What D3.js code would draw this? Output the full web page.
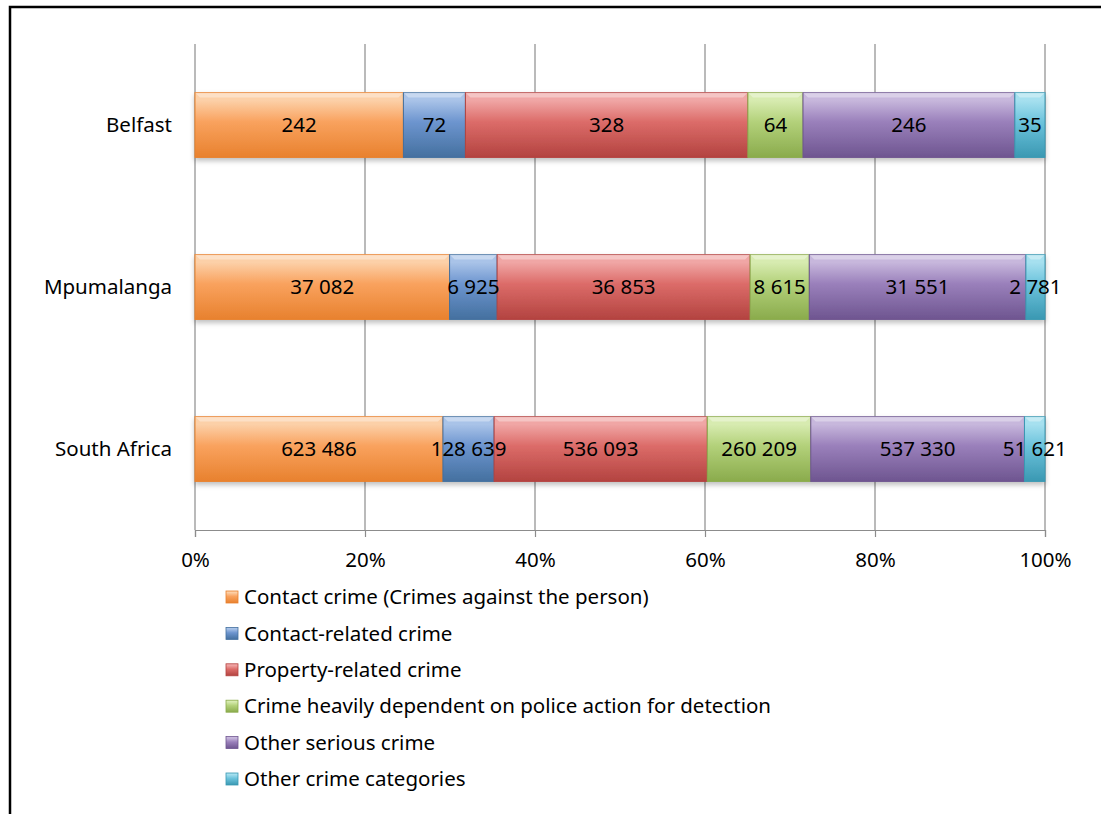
<!DOCTYPE html>
<html>
<head>
<meta charset="utf-8">
<script src="https://cdn.jsdelivr.net/npm/d3@7"></script>
<style>
  body { margin: 0; background: #fff; }
  text { font-family: "Noto Sans", sans-serif; fill: #000; }
</style>
</head>
<body>
<div id="chart"></div>
<script>
// regions, top to bottom
var regions = ["Belfast", "Mpumalanga", "South Africa"];

var seriesNames = [
    "Contact crime (Crimes against the person)",
    "Contact-related crime",
    "Property-related crime",
    "Crime heavily dependent on police action for detection",
    "Other serious crime",
    "Other crime categories"
];

var belfast = [242, 72, 328, 64, 246, 35];
var mpumalanga = [37082, 6925, 36853, 8615, 31551, 2781];
var southAfrica = [623486, 128639, 536093, 260209, 537330, 51621];

var tickValues = [0, 0.2, 0.4, 0.6, 0.8, 1];

// light / mid / dark for each series gradient
var colors = [
    ["#fcd0a8", "#f9a25e", "#e8812e"],
    ["#a9c3e8", "#6d95cf", "#44709f"],
    ["#f0a6a5", "#dc6c69", "#b34340"],
    ["#d7ebb0", "#b3d17a", "#8aab4c"],
    ["#c7b7dc", "#9a80bb", "#6e5590"],
    ["#a6e0ef", "#6cc3dc", "#3a98b2"]
];

var fontSize = 20.5;

var W = 1101, H = 814;
var margin = { top: 44, right: 56, bottom: 284, left: 195 },
    width = W - margin.left - margin.right,
    height = H - margin.top - margin.bottom;

var svg = d3.select("#chart").append("svg")
    .attr("width", W)
    .attr("height", H);

var defs = svg.append("defs");

colors.forEach(function (c, i) {
    var g = defs.append("linearGradient")
        .attr("id", "grad" + i)
        .attr("x1", 0).attr("y1", 0).attr("x2", 0).attr("y2", 1);
    g.append("stop").attr("offset", "0%").attr("stop-color", c[0]);
    g.append("stop").attr("offset", "12%").attr("stop-color", c[0]);
    g.append("stop").attr("offset", "45%").attr("stop-color", c[1]);
    g.append("stop").attr("offset", "100%").attr("stop-color", c[2]);
});

var shadow = defs.append("filter").attr("id", "shadow")
    .attr("x", "-5%").attr("y", "-20%").attr("width", "110%").attr("height", "150%");
shadow.append("feDropShadow")
    .attr("dx", 0).attr("dy", 3).attr("stdDeviation", 2.5)
    .attr("flood-color", "#000").attr("flood-opacity", 0.25);

// outer frame
svg.append("rect")
    .attr("x", 10).attr("y", 7)
    .attr("width", W + 10).attr("height", H + 10)
    .attr("fill", "none")
    .attr("stroke", "#000")
    .attr("stroke-width", 2.5);

var g = svg.append("g")
    .attr("transform", "translate(" + margin.left + "," + margin.top + ")");

var x = d3.scaleLinear().domain([0, 1]).range([0, width]);

var y = d3.scaleBand()
    .domain(regions)
    .range([0, height])
    .paddingInner(0.6)
    .paddingOuter(0.3);

// gridlines
g.append("g")
    .selectAll("line")
    .data(tickValues)
    .enter().append("line")
    .attr("x1", function (d) { return x(d); })
    .attr("x2", function (d) { return x(d); })
    .attr("y1", 0)
    .attr("y2", height)
    .attr("stroke", "#8c8c8c")
    .attr("stroke-width", 1.2);

// x axis
var xAxis = d3.axisBottom(x)
    .tickValues(tickValues)
    .tickFormat(d3.format(".0%"))
    .tickSize(7)
    .tickPadding(15);

var xg = g.append("g")
    .attr("transform", "translate(0," + height + ")")
    .call(xAxis);
xg.select(".domain").attr("stroke", "#8c8c8c").attr("stroke-width", 1.2);
xg.selectAll(".tick line").attr("stroke", "#8c8c8c").attr("stroke-width", 1.2);
xg.selectAll("text").attr("font-size", fontSize).attr("font-family", "Noto Sans, sans-serif").attr("fill", "#000");

// category labels
g.append("g")
    .selectAll("text")
    .data(regions)
    .enter().append("text")
    .attr("x", -23)
    .attr("y", function (d) { return y(d) + y.bandwidth() / 2; })
    .attr("dy", "0.35em")
    .attr("text-anchor", "end")
    .attr("font-size", fontSize)
    .text(function (d) { return d; });

var rows = [belfast, mpumalanga, southAfrica];
var data = regions.map(function (r, i) {
    var vals = rows[i];
    var total = d3.sum(vals);
    var acc = 0;
    return vals.map(function (v, k) {
        var seg = { region: r, k: k, value: v, x0: acc / total, x1: (acc + v) / total };
        acc += v;
        return seg;
    });
});
var segs = [].concat.apply([], data);

var bars = g.append("g").attr("filter", "url(#shadow)");

bars.selectAll("rect")
    .data(segs)
    .enter().append("rect")
    .attr("x", function (d) { return x(d.x0); })
    .attr("y", function (d) { return y(d.region); })
    .attr("width", function (d) { return x(d.x1) - x(d.x0); })
    .attr("height", y.bandwidth())
    .attr("fill", function (d) { return "url(#grad" + d.k + ")"; })
    .attr("stroke", function (d) { return colors[d.k][2]; })
    .attr("stroke-width", 1);

// bevel highlights
bars.selectAll("path.bevel")
    .data(segs)
    .enter().append("path")
    .attr("class", "bevel")
    .attr("d", function (d) {
        var x0 = x(d.x0), x1 = x(d.x1), y0 = y(d.region), b = 5;
        return "M" + x0 + "," + y0 + "L" + x1 + "," + y0 + "L" + (x1 - b) + "," + (y0 + b) +
            "L" + (x0 + b) + "," + (y0 + b) + "Z";
    })
    .attr("fill", "#fff")
    .attr("opacity", 0.35);

var fmt = function (v) { return d3.format(",")(v).replace(/,/g, " "); };

g.append("g")
    .selectAll("text")
    .data(segs)
    .enter().append("text")
    .attr("x", function (d) { return (x(d.x0) + x(d.x1)) / 2; })
    .attr("y", function (d) { return y(d.region) + y.bandwidth() / 2; })
    .attr("dy", "0.35em")
    .attr("text-anchor", "middle")
    .attr("font-size", fontSize)
    .text(function (d) { return fmt(d.value); });

// legend
var legend = svg.append("g")
    .attr("transform", "translate(226,597)");

var item = legend.selectAll("g")
    .data(seriesNames)
    .enter().append("g")
    .attr("transform", function (d, i) { return "translate(0," + (i * 36.4) + ")"; });

item.append("rect")
    .attr("x", 0).attr("y", -6)
    .attr("width", 12).attr("height", 12)
    .attr("fill", function (d, i) { return "url(#grad" + i + ")"; })
    .attr("stroke", function (d, i) { return colors[i][2]; })
    .attr("stroke-width", 0.8);

item.append("text")
    .attr("x", 18)
    .attr("dy", "0.35em")
    .attr("font-size", fontSize)
    .text(function (d) { return d; });
</script>
</body>
</html>
